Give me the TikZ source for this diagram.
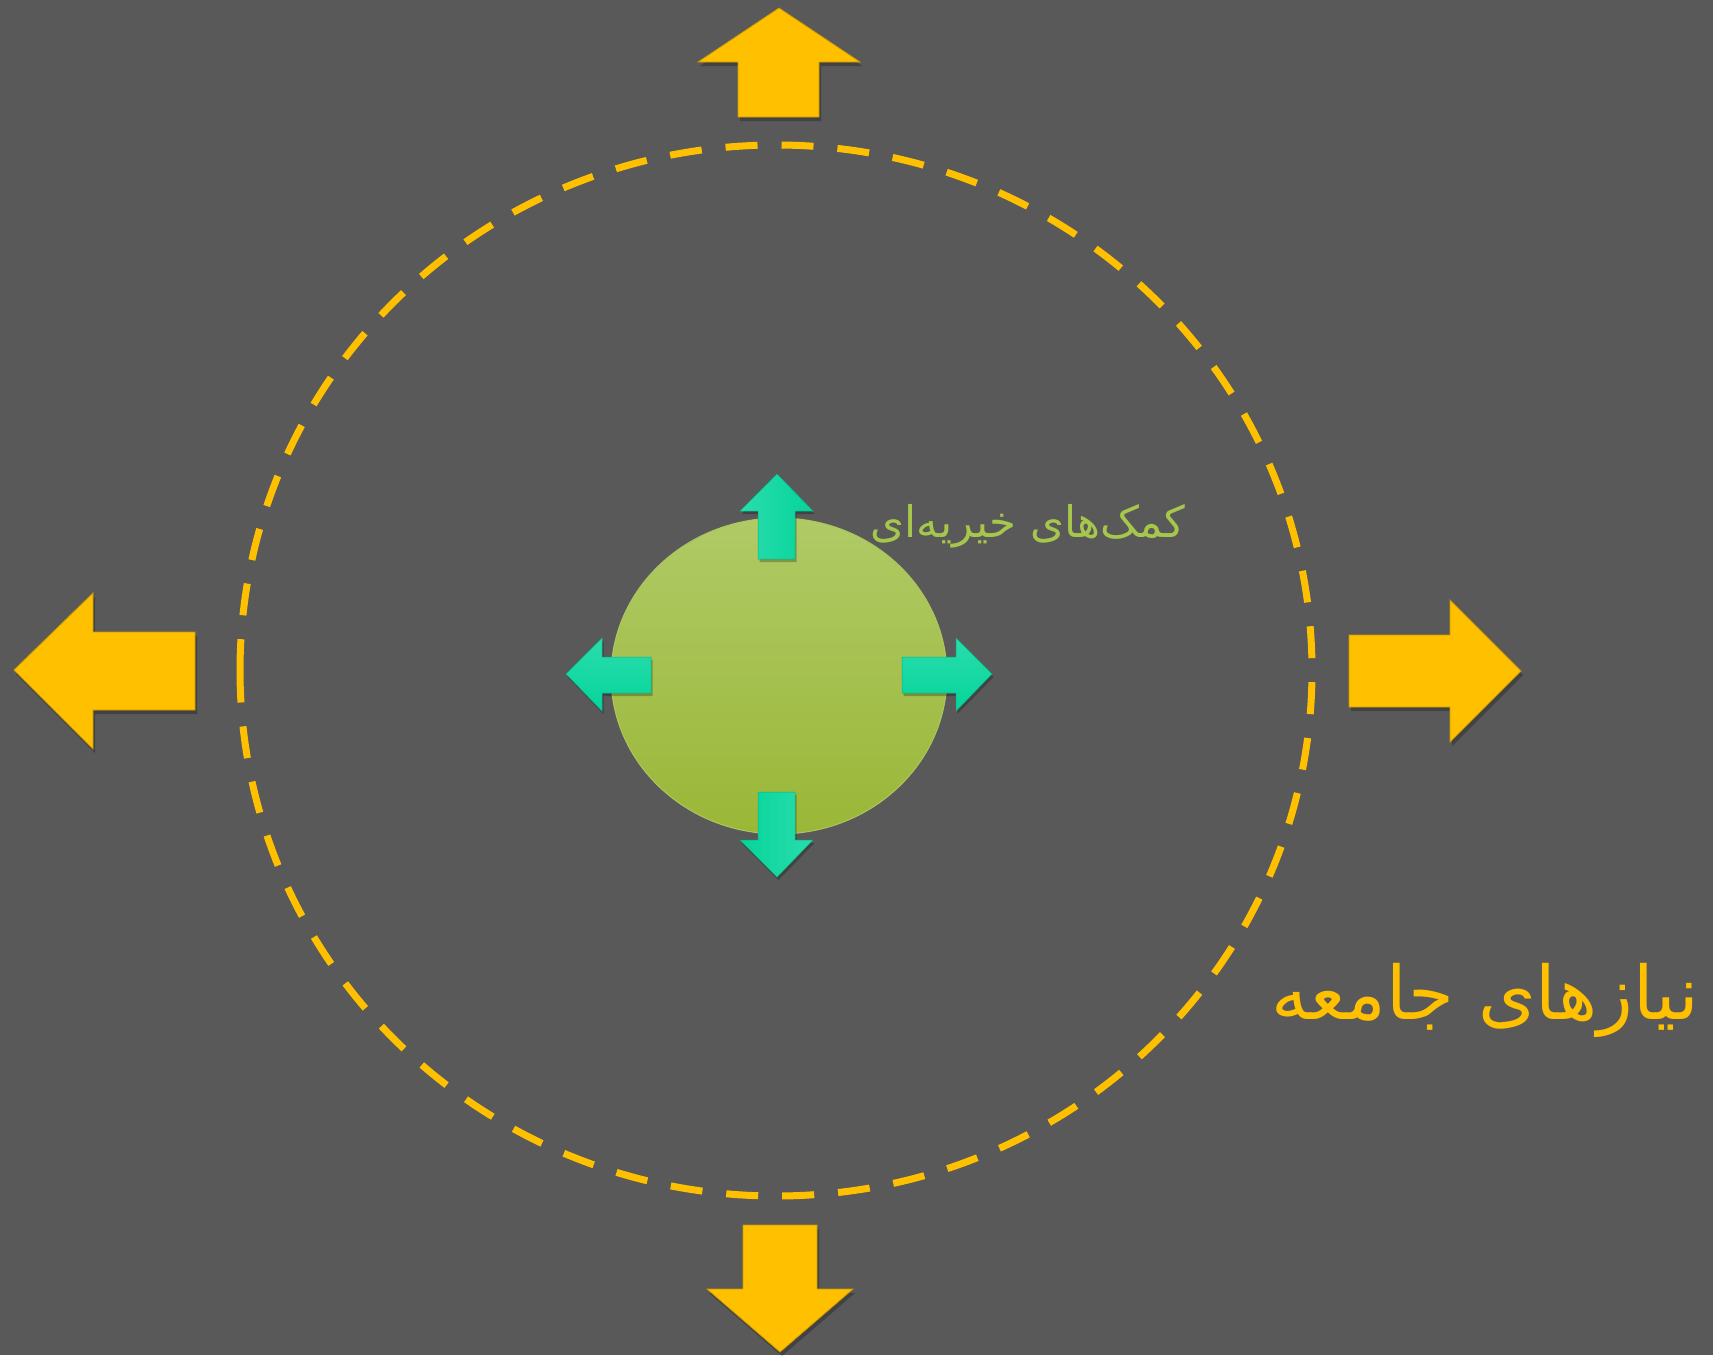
\documentclass[tikz,border=0pt]{standalone}
\usepackage{fontspec}
\newfontfamily\arabicfont[Script=Arabic]{DejaVu Sans}
\TeXXeTstate=1
\usetikzlibrary{shadows}
\definecolor{bg}{HTML}{595959}
\definecolor{gold}{HTML}{FFC000}
\definecolor{teal}{HTML}{05D49A}
\definecolor{teallight}{HTML}{2ADDAD}
\definecolor{lgreen}{HTML}{A6C64C}
\definecolor{elltop}{HTML}{B0CA66}
\definecolor{ellbot}{HTML}{9AB737}
\begin{document}
\begin{tikzpicture}[x=1pt,y=-1pt,
  bigarrow/.style={fill=gold, draw=gold!80!black, line width=0.8pt,
    drop shadow={shadow xshift=2pt, shadow yshift=-4pt, opacity=0.25, fill=black}},
  smallarrow/.style={draw=teal!85!black, line width=0.5pt,
    drop shadow={shadow xshift=1.5pt, shadow yshift=-3pt, opacity=0.25, fill=black}},
  ring/.style={draw=gold, line width=7pt, dash pattern=on 32pt off 24pt},
  lbl/.style={inner sep=0pt}]
\fill[bg] (0,0) rectangle (1713,1355);
\useasboundingbox (0,0) rectangle (1713,1355);

% outer big arrows
\draw[bigarrow] (779,8) -- (860,62) -- (819,62) -- (819,117) -- (738,117) -- (738,62) -- (698,62) -- cycle;
\draw[bigarrow] (14,670) -- (93,593) -- (93,632) -- (195,632) -- (195,710) -- (93,710) -- (93,749) -- cycle;
\draw[bigarrow] (780,1352) -- (853,1289) -- (817,1289) -- (817,1225) -- (743,1225) -- (743,1289) -- (707,1289) -- cycle;
\draw[bigarrow] (1521,671) -- (1450,600) -- (1450,635) -- (1349,635) -- (1349,707) -- (1450,707) -- (1450,742) -- cycle;

% dashed ring
\coordinate (c) at (776,670.5);
\draw[ring] (c) ++(-536,0) arc[start angle=180, end angle=-180, x radius=536, y radius=525.5];

% central ellipse
\coordinate (e) at (779,676);
\shade[top color=elltop, bottom color=ellbot, draw=elltop!80!ellbot, line width=1pt] (e) ellipse[x radius=168, y radius=158];

% small teal arrows
\shade[smallarrow, left color=teallight, right color=teal] (777,474) -- (813,511) -- (795,511) -- (795,559) -- (758,559) -- (758,511) -- (740,511) -- cycle;
\shade[smallarrow, left color=teal, right color=teallight] (777,877) -- (740,840) -- (758,840) -- (758,792) -- (795,792) -- (795,840) -- (813,840) -- cycle;
\shade[smallarrow, top color=teallight, bottom color=teal] (566,674) -- (602,638) -- (602,657) -- (651,657) -- (651,693) -- (602,693) -- (602,711) -- cycle;
\shade[smallarrow, top color=teallight, bottom color=teal] (992,674) -- (956,638) -- (956,657) -- (902,657) -- (902,693) -- (956,693) -- (956,711) -- cycle;

% labels
\node[lbl, text=lgreen, font=\arabicfont\fontsize{43.5}{52}\selectfont] (t1) at (1028,526) {\beginR کمک‌های خیریه‌ای\endR};
\node[lbl, text=gold, font=\arabicfont\fontsize{74}{88}\selectfont] (t2) at (1485,1000) {\beginR نیازهای جامعه\endR};
\end{tikzpicture}
\end{document}
